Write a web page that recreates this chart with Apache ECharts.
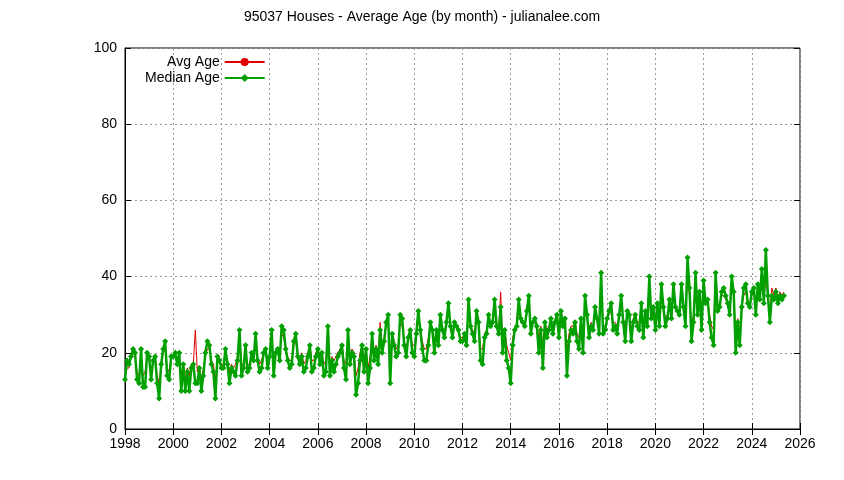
<!DOCTYPE html><html><head><meta charset="utf-8"><script src="https://cdn.jsdelivr.net/npm/echarts@6/dist/echarts.min.js"></script></head><body style="margin:0"><div id="c" style="width:844px;height:480px"></div><script>
const startYear = 1998;
const medianAge = [
13,18,17,19,21,20,13,12,21,11,11,20,
19,13,18,19,12,8,17,21,23,14,13,19,
19,20,17,20,10,17,10,15,10,16,17,12,
12,16,10,14,20,23,22,17,15,8,19,18,
16,16,21,17,12,16,15,14,18,26,14,16,
22,15,16,20,18,25,18,15,16,20,21,16,
19,26,14,20,21,18,27,26,21,18,16,17,
23,25,19,17,19,15,16,19,22,15,16,19,
21,17,20,14,15,27,14,18,15,17,19,20,
22,16,13,26,17,20,19,9,12,18,22,15,
21,12,16,25,18,21,17,26,20,23,28,30,
12,25,22,19,20,30,29,22,19,24,26,20,
19,25,31,26,21,18,18,22,28,26,20,26,
22,30,26,24,28,33,27,24,28,27,26,23,
23,25,22,34,27,25,23,31,28,18,17,24,
25,30,27,28,34,27,25,32,20,26,18,16,
12,22,26,27,34,29,28,27,31,35,25,28,
29,27,20,26,16,28,24,26,29,25,28,30,
24,31,27,29,14,23,26,25,28,23,21,29,
20,35,30,24,27,26,32,29,25,41,25,26,
29,31,33,26,27,25,30,35,28,23,31,30,
23,28,30,27,26,33,24,31,27,40,29,32,
26,33,27,38,32,27,29,34,29,38,32,31,
30,38,32,27,45,37,23,28,41,30,36,26,
39,33,34,28,24,22,41,31,32,36,37,35,
33,30,40,36,20,28,22,32,37,38,33,32,
36,37,30,38,34,42,33,47,35,28,35,34,
36,33,35,34,35
];
const avgAge = [
14,16,16,19,20,19,15,14,18,14,15,19,
18,15,17,18,14,12,17,20,21,16,15,19,
19,19,18,19,14,17,13,16,14,17,17,26,
15,16,13,16,19,21,21,18,17,13,18,18,
17,17,20,18,15,17,16,17,19,24,17,17,
21,17,17,20,19,23,19,17,18,20,20,18,
19,24,17,20,21,19,25,24,21,19,18,18,
22,23,20,18,20,17,18,20,22,18,18,20,
21,19,20,17,18,24,17,19,18,19,20,21,
22,18,17,24,19,21,20,14,16,20,22,18,
21,16,19,24,20,22,19,28,22,24,27,28,
18,25,23,21,22,28,27,23,21,24,26,22,
22,25,29,26,23,21,21,24,27,26,23,26,
24,28,26,25,27,31,27,25,27,27,26,24,
24,25,24,31,27,26,25,30,27,21,21,25,
26,29,27,28,31,27,26,36,23,26,22,20,
18,24,26,27,32,28,28,28,30,33,27,28,
28,27,24,27,21,28,26,27,28,27,28,29,
26,30,27,28,20,25,27,27,28,25,24,29,
24,32,29,26,28,27,31,29,27,36,27,27,
29,30,31,28,28,27,30,33,29,26,31,30,
26,29,30,28,28,31,27,31,29,36,30,31,
28,32,29,35,32,29,30,33,30,35,32,31,
31,36,32,29,40,35,27,30,38,31,34,29,
36,33,34,30,27,26,37,32,33,35,35,34,
33,31,37,35,25,29,25,32,35,36,33,32,
35,36,32,37,34,39,34,40,35,31,37,35,
37,34,36,35,36
];
const xTicks = [1998,2026,2];
const toPts = arr => arr.map((v,i)=>[startYear + i/12, v]);
const txt = {color:'#000', fontFamily:'Liberation Sans, Arial', fontSize:14};
const chart = echarts.init(document.getElementById('c'));
chart.setOption({
  animation:false,
  title:{text:'95037 Houses - Average Age (by month) - julianalee.com', left:'center', top:5, textStyle:{...txt, fontWeight:'normal'}},
  legend:{orient:'vertical', left:140, top:50, align:'right', itemGap:2, itemWidth:40, itemHeight:10,
    textStyle:{...txt}, data:['Avg Age','Median Age']},
  grid:{left:125, right:44, top:48, bottom:51, show:true, borderColor:'#000', borderWidth:1},
  xAxis:[{type:'value', min:xTicks[0], max:xTicks[1], interval:xTicks[2],
    axisLine:{lineStyle:{color:'#000'}}, axisTick:{inside:true, length:6, lineStyle:{color:'#000'}},
    axisLabel:{...txt, margin:8, formatter:v=>String(v)},
    splitLine:{lineStyle:{type:[2,3], color:'#999'}}},
    {type:'value', position:'top', min:xTicks[0], max:xTicks[1], interval:xTicks[2], axisLine:{show:false}, axisTick:{inside:true,length:6,lineStyle:{color:'#000'}}, axisLabel:{show:false}, splitLine:{show:false}}],
  yAxis:[{type:'value', min:0, max:100, interval:20,
    axisLine:{lineStyle:{color:'#000'}}, axisTick:{inside:true, length:6, lineStyle:{color:'#000'}},
    axisLabel:{...txt, margin:8}, splitLine:{lineStyle:{type:[2,3], color:'#999'}}},
    {type:'value', position:'right', min:0, max:100, interval:20, axisLine:{show:false}, axisTick:{inside:true,length:6,lineStyle:{color:'#000'}}, axisLabel:{show:false}, splitLine:{show:false}}],
  series:[
    {name:'Avg Age', type:'line', data:toPts(avgAge), showSymbol:false, symbol:'none', lineStyle:{color:'#e00000', width:1}, itemStyle:{color:'#e00000'}},
    {name:'Median Age', type:'line', data:toPts(medianAge), symbol:'diamond', symbolSize:6, lineStyle:{color:'#00a000', width:2.5}, itemStyle:{color:'#00a000'}}
  ]
});
</script></body></html>
